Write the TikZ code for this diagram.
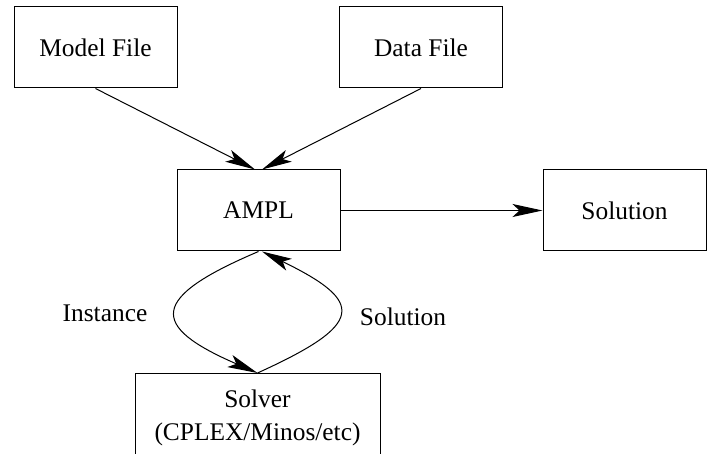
\documentclass[tikz,border=0pt]{standalone}
\usepackage{fontspec}
\setmainfont{Liberation Serif}
\newfontfamily\diagfont{Liberation Serif}
\usetikzlibrary{arrows.meta}

\begin{document}
\begin{tikzpicture}[
    x=0.5pt, y=-0.5pt,
    >={Stealth[length=15pt, width=6.5pt, inset=3.5pt]},
    line width=0.5pt,
    font=\diagfont\fontsize{12.7pt}{16.5pt}\selectfont,
    filebox/.style={draw, rectangle, minimum width=81.5pt, minimum height=40.5pt, inner sep=0pt, align=center},
    solverbox/.style={draw, rectangle, minimum width=122.5pt, inner xsep=4pt, inner ysep=8.3pt, align=center, anchor=north},
    label/.style={align=center}
]

% -------------------------
% Page Frame
% -------------------------
\useasboundingbox (0, 0) rectangle (707, 454);

% -------------------------
% Boxes
% -------------------------
\node[filebox] (Model) at (95.5, 47.5) {Model File};
\node[filebox] (Data) at (421, 47.5) {Data File};
\node[filebox] (AMPL) at (258.5, 210.5) {AMPL};
\node[filebox] (Result) at (624.5, 210.5) {Solution};
\node[solverbox] (Solver) at (257.5, 373) {Solver\\(CPLEX/Minos/etc)};

% -------------------------
% Loop Labels
% -------------------------
\node[label] (InstanceLabel) at (105, 313) {Instance};
\node[label] (SolutionLabel) at (403, 317) {Solution};

% -------------------------
% Arrows
% -------------------------
\draw[->] (Model.south) -- ([xshift=-1.75pt]AMPL.north);
\draw[->] (Data.south) -- ([xshift=1.75pt]AMPL.north);
\draw[->] (AMPL.east) -- (Result.west);

% Instance / Solution loop
\draw[->] (AMPL.south) .. controls (149, 298) and (149, 326) .. (Solver.north);
\draw[->] (Solver.north) .. controls (365.5, 324) and (365.5, 302) .. ([xshift=1.75pt]AMPL.south);

\end{tikzpicture}
\end{document}
